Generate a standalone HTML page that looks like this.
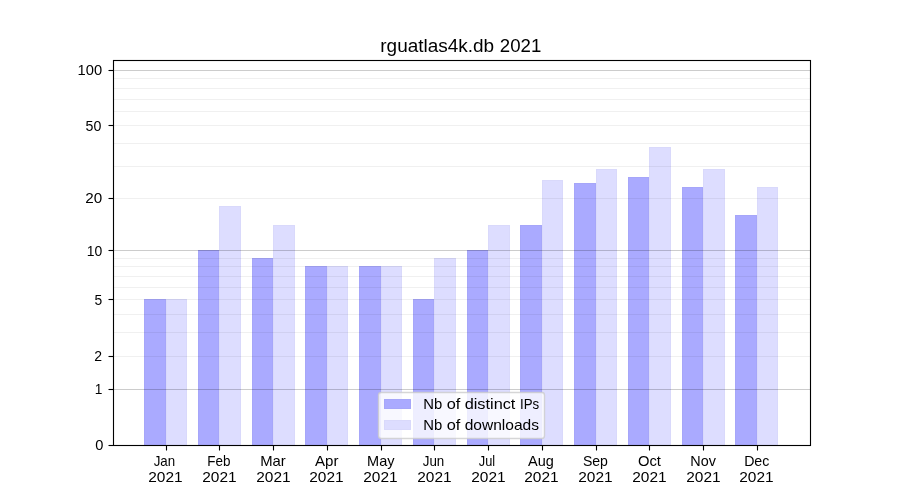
<!DOCTYPE html>
<html><head><meta charset="utf-8"><title>rguatlas4k.db 2021</title>
<style>html,body{margin:0;padding:0;background:#fff;overflow:hidden;}svg{display:block;will-change:transform;}text{font-family:"Liberation Sans",sans-serif;fill:#000;}</style></head><body>
<svg width="900" height="500" viewBox="0 0 900 500">
<rect x="0" y="0" width="900" height="500" fill="#ffffff"/>
<g shape-rendering="crispEdges">
<rect x="144" y="299" width="22" height="146" fill="#aaaaff"/>
<rect x="144" y="299" width="22" height="1" fill="#000" fill-opacity="0.025"/>
<rect x="144" y="300" width="1" height="145" fill="#000" fill-opacity="0.025"/>
<rect x="165" y="300" width="1" height="145" fill="#000" fill-opacity="0.025"/>
<rect x="166" y="299" width="21" height="146" fill="#ddddff"/>
<rect x="166" y="299" width="21" height="1" fill="#000" fill-opacity="0.015"/>
<rect x="166" y="300" width="1" height="145" fill="#000" fill-opacity="0.015"/>
<rect x="186" y="300" width="1" height="145" fill="#000" fill-opacity="0.015"/>
<rect x="198" y="250" width="21" height="195" fill="#aaaaff"/>
<rect x="198" y="250" width="21" height="1" fill="#000" fill-opacity="0.025"/>
<rect x="198" y="251" width="1" height="194" fill="#000" fill-opacity="0.025"/>
<rect x="218" y="251" width="1" height="194" fill="#000" fill-opacity="0.025"/>
<rect x="219" y="206" width="22" height="239" fill="#ddddff"/>
<rect x="219" y="206" width="22" height="1" fill="#000" fill-opacity="0.015"/>
<rect x="219" y="207" width="1" height="238" fill="#000" fill-opacity="0.015"/>
<rect x="240" y="207" width="1" height="238" fill="#000" fill-opacity="0.015"/>
<rect x="252" y="258" width="21" height="187" fill="#aaaaff"/>
<rect x="252" y="258" width="21" height="1" fill="#000" fill-opacity="0.025"/>
<rect x="252" y="259" width="1" height="186" fill="#000" fill-opacity="0.025"/>
<rect x="272" y="259" width="1" height="186" fill="#000" fill-opacity="0.025"/>
<rect x="273" y="225" width="22" height="220" fill="#ddddff"/>
<rect x="273" y="225" width="22" height="1" fill="#000" fill-opacity="0.015"/>
<rect x="273" y="226" width="1" height="219" fill="#000" fill-opacity="0.015"/>
<rect x="294" y="226" width="1" height="219" fill="#000" fill-opacity="0.015"/>
<rect x="305" y="266" width="22" height="179" fill="#aaaaff"/>
<rect x="305" y="266" width="22" height="1" fill="#000" fill-opacity="0.025"/>
<rect x="305" y="267" width="1" height="178" fill="#000" fill-opacity="0.025"/>
<rect x="326" y="267" width="1" height="178" fill="#000" fill-opacity="0.025"/>
<rect x="327" y="266" width="21" height="179" fill="#ddddff"/>
<rect x="327" y="266" width="21" height="1" fill="#000" fill-opacity="0.015"/>
<rect x="327" y="267" width="1" height="178" fill="#000" fill-opacity="0.015"/>
<rect x="347" y="267" width="1" height="178" fill="#000" fill-opacity="0.015"/>
<rect x="359" y="266" width="22" height="179" fill="#aaaaff"/>
<rect x="359" y="266" width="22" height="1" fill="#000" fill-opacity="0.025"/>
<rect x="359" y="267" width="1" height="178" fill="#000" fill-opacity="0.025"/>
<rect x="380" y="267" width="1" height="178" fill="#000" fill-opacity="0.025"/>
<rect x="381" y="266" width="21" height="179" fill="#ddddff"/>
<rect x="381" y="266" width="21" height="1" fill="#000" fill-opacity="0.015"/>
<rect x="381" y="267" width="1" height="178" fill="#000" fill-opacity="0.015"/>
<rect x="401" y="267" width="1" height="178" fill="#000" fill-opacity="0.015"/>
<rect x="413" y="299" width="21" height="146" fill="#aaaaff"/>
<rect x="413" y="299" width="21" height="1" fill="#000" fill-opacity="0.025"/>
<rect x="413" y="300" width="1" height="145" fill="#000" fill-opacity="0.025"/>
<rect x="433" y="300" width="1" height="145" fill="#000" fill-opacity="0.025"/>
<rect x="434" y="258" width="22" height="187" fill="#ddddff"/>
<rect x="434" y="258" width="22" height="1" fill="#000" fill-opacity="0.015"/>
<rect x="434" y="259" width="1" height="186" fill="#000" fill-opacity="0.015"/>
<rect x="455" y="259" width="1" height="186" fill="#000" fill-opacity="0.015"/>
<rect x="467" y="250" width="21" height="195" fill="#aaaaff"/>
<rect x="467" y="250" width="21" height="1" fill="#000" fill-opacity="0.025"/>
<rect x="467" y="251" width="1" height="194" fill="#000" fill-opacity="0.025"/>
<rect x="487" y="251" width="1" height="194" fill="#000" fill-opacity="0.025"/>
<rect x="488" y="225" width="22" height="220" fill="#ddddff"/>
<rect x="488" y="225" width="22" height="1" fill="#000" fill-opacity="0.015"/>
<rect x="488" y="226" width="1" height="219" fill="#000" fill-opacity="0.015"/>
<rect x="509" y="226" width="1" height="219" fill="#000" fill-opacity="0.015"/>
<rect x="520" y="225" width="22" height="220" fill="#aaaaff"/>
<rect x="520" y="225" width="22" height="1" fill="#000" fill-opacity="0.025"/>
<rect x="520" y="226" width="1" height="219" fill="#000" fill-opacity="0.025"/>
<rect x="541" y="226" width="1" height="219" fill="#000" fill-opacity="0.025"/>
<rect x="542" y="180" width="21" height="265" fill="#ddddff"/>
<rect x="542" y="180" width="21" height="1" fill="#000" fill-opacity="0.015"/>
<rect x="542" y="181" width="1" height="264" fill="#000" fill-opacity="0.015"/>
<rect x="562" y="181" width="1" height="264" fill="#000" fill-opacity="0.015"/>
<rect x="574" y="183" width="22" height="262" fill="#aaaaff"/>
<rect x="574" y="183" width="22" height="1" fill="#000" fill-opacity="0.025"/>
<rect x="574" y="184" width="1" height="261" fill="#000" fill-opacity="0.025"/>
<rect x="595" y="184" width="1" height="261" fill="#000" fill-opacity="0.025"/>
<rect x="596" y="169" width="21" height="276" fill="#ddddff"/>
<rect x="596" y="169" width="21" height="1" fill="#000" fill-opacity="0.015"/>
<rect x="596" y="170" width="1" height="275" fill="#000" fill-opacity="0.015"/>
<rect x="616" y="170" width="1" height="275" fill="#000" fill-opacity="0.015"/>
<rect x="628" y="177" width="21" height="268" fill="#aaaaff"/>
<rect x="628" y="177" width="21" height="1" fill="#000" fill-opacity="0.025"/>
<rect x="628" y="178" width="1" height="267" fill="#000" fill-opacity="0.025"/>
<rect x="648" y="178" width="1" height="267" fill="#000" fill-opacity="0.025"/>
<rect x="649" y="147" width="22" height="298" fill="#ddddff"/>
<rect x="649" y="147" width="22" height="1" fill="#000" fill-opacity="0.015"/>
<rect x="649" y="148" width="1" height="297" fill="#000" fill-opacity="0.015"/>
<rect x="670" y="148" width="1" height="297" fill="#000" fill-opacity="0.015"/>
<rect x="682" y="187" width="21" height="258" fill="#aaaaff"/>
<rect x="682" y="187" width="21" height="1" fill="#000" fill-opacity="0.025"/>
<rect x="682" y="188" width="1" height="257" fill="#000" fill-opacity="0.025"/>
<rect x="702" y="188" width="1" height="257" fill="#000" fill-opacity="0.025"/>
<rect x="703" y="169" width="22" height="276" fill="#ddddff"/>
<rect x="703" y="169" width="22" height="1" fill="#000" fill-opacity="0.015"/>
<rect x="703" y="170" width="1" height="275" fill="#000" fill-opacity="0.015"/>
<rect x="724" y="170" width="1" height="275" fill="#000" fill-opacity="0.015"/>
<rect x="735" y="215" width="22" height="230" fill="#aaaaff"/>
<rect x="735" y="215" width="22" height="1" fill="#000" fill-opacity="0.025"/>
<rect x="735" y="216" width="1" height="229" fill="#000" fill-opacity="0.025"/>
<rect x="756" y="216" width="1" height="229" fill="#000" fill-opacity="0.025"/>
<rect x="757" y="187" width="21" height="258" fill="#ddddff"/>
<rect x="757" y="187" width="21" height="1" fill="#000" fill-opacity="0.015"/>
<rect x="757" y="188" width="1" height="257" fill="#000" fill-opacity="0.015"/>
<rect x="777" y="188" width="1" height="257" fill="#000" fill-opacity="0.015"/>
</g>
<g shape-rendering="crispEdges">
<rect x="114" y="356" width="696" height="1" fill="#000" fill-opacity="0.06"/>
<rect x="114" y="332" width="696" height="1" fill="#000" fill-opacity="0.06"/>
<rect x="114" y="314" width="696" height="1" fill="#000" fill-opacity="0.06"/>
<rect x="114" y="299" width="696" height="1" fill="#000" fill-opacity="0.06"/>
<rect x="114" y="287" width="696" height="1" fill="#000" fill-opacity="0.06"/>
<rect x="114" y="276" width="696" height="1" fill="#000" fill-opacity="0.06"/>
<rect x="114" y="266" width="696" height="1" fill="#000" fill-opacity="0.06"/>
<rect x="114" y="258" width="696" height="1" fill="#000" fill-opacity="0.06"/>
<rect x="114" y="198" width="696" height="1" fill="#000" fill-opacity="0.06"/>
<rect x="114" y="166" width="696" height="1" fill="#000" fill-opacity="0.06"/>
<rect x="114" y="143" width="696" height="1" fill="#000" fill-opacity="0.06"/>
<rect x="114" y="125" width="696" height="1" fill="#000" fill-opacity="0.06"/>
<rect x="114" y="111" width="696" height="1" fill="#000" fill-opacity="0.06"/>
<rect x="114" y="99" width="696" height="1" fill="#000" fill-opacity="0.06"/>
<rect x="114" y="88" width="696" height="1" fill="#000" fill-opacity="0.06"/>
<rect x="114" y="78" width="696" height="1" fill="#000" fill-opacity="0.06"/>
<rect x="114" y="389" width="696" height="1" fill="#000" fill-opacity="0.2"/>
<rect x="114" y="250" width="696" height="1" fill="#000" fill-opacity="0.2"/>
<rect x="114" y="70" width="696" height="1" fill="#000" fill-opacity="0.2"/>
</g>
<g stroke="#000" stroke-width="1.111" fill="none" stroke-linecap="butt">
<rect x="113.5" y="60.5" width="697" height="385"/>
<line x1="108.5" y1="445.5" x2="113" y2="445.5"/>
<line x1="108.5" y1="389.5" x2="113" y2="389.5"/>
<line x1="108.5" y1="356.5" x2="113" y2="356.5"/>
<line x1="108.5" y1="299.5" x2="113" y2="299.5"/>
<line x1="108.5" y1="250.5" x2="113" y2="250.5"/>
<line x1="108.5" y1="198.5" x2="113" y2="198.5"/>
<line x1="108.5" y1="125.5" x2="113" y2="125.5"/>
<line x1="108.5" y1="70.5" x2="113" y2="70.5"/>
<line x1="166.5" y1="446" x2="166.5" y2="450.5"/>
<line x1="219.5" y1="446" x2="219.5" y2="450.5"/>
<line x1="273.5" y1="446" x2="273.5" y2="450.5"/>
<line x1="327.5" y1="446" x2="327.5" y2="450.5"/>
<line x1="381.5" y1="446" x2="381.5" y2="450.5"/>
<line x1="434.5" y1="446" x2="434.5" y2="450.5"/>
<line x1="488.5" y1="446" x2="488.5" y2="450.5"/>
<line x1="542.5" y1="446" x2="542.5" y2="450.5"/>
<line x1="596.5" y1="446" x2="596.5" y2="450.5"/>
<line x1="649.5" y1="446" x2="649.5" y2="450.5"/>
<line x1="703.5" y1="446" x2="703.5" y2="450.5"/>
<line x1="757.5" y1="446" x2="757.5" y2="450.5"/>
</g>
<g>
<text x="95.22" y="449.95" font-size="14.74" textLength="8.15" lengthAdjust="spacingAndGlyphs">0</text>
<text x="94.74" y="393.75" font-size="14.74" textLength="7.65" lengthAdjust="spacingAndGlyphs">1</text>
<text x="94.21" y="360.75" font-size="14.74" textLength="7.81" lengthAdjust="spacingAndGlyphs">2</text>
<text x="94.43" y="304.80" font-size="14.74" textLength="7.71" lengthAdjust="spacingAndGlyphs">5</text>
<text x="86.70" y="255.55" font-size="14.74" textLength="15.49" lengthAdjust="spacingAndGlyphs">10</text>
<text x="85.24" y="202.75" font-size="14.74" textLength="16.93" lengthAdjust="spacingAndGlyphs">20</text>
<text x="85.49" y="130.72" font-size="14.74" textLength="15.79" lengthAdjust="spacingAndGlyphs">50</text>
<text x="77.58" y="74.75" font-size="14.74" textLength="24.53" lengthAdjust="spacingAndGlyphs">100</text>
<text x="153.64" y="465.89" font-size="14.74" textLength="21.46" lengthAdjust="spacingAndGlyphs">Jan</text>
<text x="148.28" y="482.00" font-size="14.74" textLength="34.38" lengthAdjust="spacingAndGlyphs">2021</text>
<text x="207.23" y="465.89" font-size="14.74" textLength="23.17" lengthAdjust="spacingAndGlyphs">Feb</text>
<text x="202.28" y="482.00" font-size="14.74" textLength="34.38" lengthAdjust="spacingAndGlyphs">2021</text>
<text x="260.23" y="465.89" font-size="14.74" textLength="25.57" lengthAdjust="spacingAndGlyphs">Mar</text>
<text x="256.28" y="482.00" font-size="14.74" textLength="34.38" lengthAdjust="spacingAndGlyphs">2021</text>
<text x="315.02" y="465.89" font-size="14.74" textLength="23.48" lengthAdjust="spacingAndGlyphs">Apr</text>
<text x="309.28" y="482.00" font-size="14.74" textLength="34.38" lengthAdjust="spacingAndGlyphs">2021</text>
<text x="367.08" y="465.89" font-size="14.74" textLength="27.43" lengthAdjust="spacingAndGlyphs">May</text>
<text x="363.28" y="482.00" font-size="14.74" textLength="34.38" lengthAdjust="spacingAndGlyphs">2021</text>
<text x="422.75" y="465.89" font-size="14.74" textLength="21.55" lengthAdjust="spacingAndGlyphs">Jun</text>
<text x="417.28" y="482.00" font-size="14.74" textLength="34.38" lengthAdjust="spacingAndGlyphs">2021</text>
<text x="478.77" y="465.89" font-size="14.74" textLength="16.42" lengthAdjust="spacingAndGlyphs">Jul</text>
<text x="471.28" y="482.00" font-size="14.74" textLength="34.38" lengthAdjust="spacingAndGlyphs">2021</text>
<text x="528.07" y="465.89" font-size="14.74" textLength="25.78" lengthAdjust="spacingAndGlyphs">Aug</text>
<text x="524.28" y="482.00" font-size="14.74" textLength="34.38" lengthAdjust="spacingAndGlyphs">2021</text>
<text x="582.91" y="465.89" font-size="14.74" textLength="25.03" lengthAdjust="spacingAndGlyphs">Sep</text>
<text x="578.28" y="482.00" font-size="14.74" textLength="34.38" lengthAdjust="spacingAndGlyphs">2021</text>
<text x="637.96" y="465.89" font-size="14.74" textLength="22.97" lengthAdjust="spacingAndGlyphs">Oct</text>
<text x="632.28" y="482.00" font-size="14.74" textLength="34.38" lengthAdjust="spacingAndGlyphs">2021</text>
<text x="690.24" y="465.89" font-size="14.74" textLength="25.61" lengthAdjust="spacingAndGlyphs">Nov</text>
<text x="686.28" y="482.00" font-size="14.74" textLength="34.38" lengthAdjust="spacingAndGlyphs">2021</text>
<text x="744.14" y="465.89" font-size="14.74" textLength="25.22" lengthAdjust="spacingAndGlyphs">Dec</text>
<text x="739.28" y="482.00" font-size="14.74" textLength="34.38" lengthAdjust="spacingAndGlyphs">2021</text>
<text x="380.28" y="52.20" font-size="17.50" textLength="113.86" lengthAdjust="spacingAndGlyphs">rguatlas4k.db</text>
<text x="499.87" y="52.20" font-size="17.50" textLength="41.43" lengthAdjust="spacingAndGlyphs">2021</text>
</g>
<rect x="378.5" y="392.5" width="166" height="46" rx="2.8" ry="2.8" fill="#ffffff" fill-opacity="0.8" stroke="#cccccc" stroke-opacity="0.8" stroke-width="1.39"/>
<g shape-rendering="crispEdges">
<rect x="384" y="399" width="27" height="10" fill="#aaaaff"/>
<rect x="384" y="399" width="27" height="1" fill="#000" fill-opacity="0.025"/>
<rect x="384" y="400" width="1" height="8" fill="#000" fill-opacity="0.025"/>
<rect x="410" y="400" width="1" height="8" fill="#000" fill-opacity="0.025"/>
<rect x="384" y="408" width="27" height="1" fill="#000" fill-opacity="0.025"/>
<rect x="384" y="420" width="27" height="10" fill="#ddddff"/>
<rect x="384" y="420" width="27" height="1" fill="#000" fill-opacity="0.015"/>
<rect x="384" y="421" width="1" height="8" fill="#000" fill-opacity="0.015"/>
<rect x="410" y="421" width="1" height="8" fill="#000" fill-opacity="0.015"/>
<rect x="384" y="429" width="27" height="1" fill="#000" fill-opacity="0.015"/>
</g>
<g>
<text x="423.21" y="409.03" font-size="14.74" textLength="18.98" lengthAdjust="spacingAndGlyphs">Nb</text>
<text x="446.74" y="409.03" font-size="14.74" textLength="13.63" lengthAdjust="spacingAndGlyphs">of</text>
<text x="464.66" y="409.03" font-size="14.74" textLength="50.72" lengthAdjust="spacingAndGlyphs">distinct</text>
<text x="520.08" y="409.03" font-size="14.74" textLength="19.18" lengthAdjust="spacingAndGlyphs">IPs</text>
<text x="423.21" y="429.53" font-size="14.74" textLength="18.98" lengthAdjust="spacingAndGlyphs">Nb</text>
<text x="446.74" y="429.53" font-size="14.74" textLength="13.63" lengthAdjust="spacingAndGlyphs">of</text>
<text x="464.67" y="429.53" font-size="14.74" textLength="74.37" lengthAdjust="spacingAndGlyphs">downloads</text>
</g>
</svg></body></html>
